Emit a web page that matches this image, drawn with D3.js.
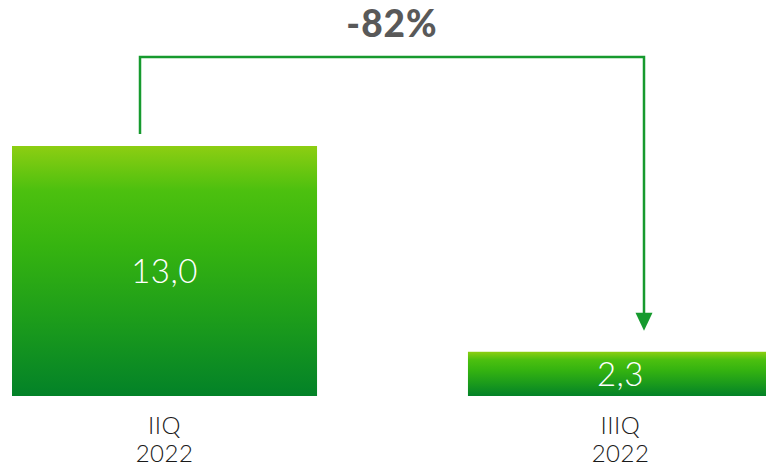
<!DOCTYPE html>
<html><head><meta charset="utf-8">
<script src="https://cdn.jsdelivr.net/npm/d3@7"></script>
<style>html,body{margin:0;padding:0;background:#fff;overflow:hidden}</style>
</head><body>
<svg id="c" width="766" height="466"></svg>
<script>
const categories = ["IIQ\n2022", "IIIQ\n2022"];
const values = [13.0, 2.3];
const valueLabels = ["13,0", "2,3"];
const changeLabel = "-82%";

const svg = d3.select("#c");
const baseY = 396;
const x = d3.scaleBand().domain(categories).range([12, 773]).paddingInner(0.331).paddingOuter(0);
const y = d3.scaleLinear().domain([0, 13.0]).range([baseY, 146]);

const defs = svg.append("defs");
const g = defs.append("linearGradient").attr("id", "grad").attr("x1", 0).attr("y1", 0).attr("x2", 0).attr("y2", 1);
[[0, "#8dce12"], [0.18, "#4cc00f"], [0.4, "#36b410"], [0.7, "#1c9c1b"], [1, "#038228"]]
  .forEach(([o, c]) => g.append("stop").attr("offset", o).attr("stop-color", c));

svg.selectAll("rect.bar").data(values).join("rect")
  .attr("class", "bar")
  .attr("x", (d, i) => x(categories[i]))
  .attr("y", d => y(d))
  .attr("width", x.bandwidth())
  .attr("height", d => baseY - y(d))
  .attr("fill", "url(#grad)");

svg.selectAll("text.val").data(values).join("text")
  .attr("class", "val")
  .attr("x", (d, i) => x(categories[i]) + x.bandwidth() / 2)
  .attr("y", d => (y(d) + baseY) / 2 + 12)
  .attr("text-anchor", "middle")
  .attr("fill", "#fff")
  .attr("font-family", "Lato, sans-serif")
  .attr("font-weight", 300)
  .attr("font-size", 33)
  .attr("letter-spacing", 0.5)
  .text((d, i) => valueLabels[i]);

const cat = svg.selectAll("text.cat").data(categories).join("text")
  .attr("class", "cat")
  .attr("text-anchor", "middle")
  .attr("fill", "#1a1a1a")
  .attr("font-family", "Lato, sans-serif")
  .attr("font-weight", 300)
  .attr("font-size", 24)
  .attr("letter-spacing", 0.5);
cat.each(function(d) {
  const cx = x(d) + x.bandwidth() / 2;
  d.split("\n").forEach((t, j) => {
    d3.select(this).append("tspan").attr("x", cx).attr("y", 434 + j * 28).text(t);
  });
});

// bracket arrow
const x1 = 140, x2 = 644, topY = 57;
const green = "#169a2e";
svg.append("path")
  .attr("d", `M${x1},${y(values[0]) - 12} V${topY} H${x2} V${y(values[1]) - 38}`)
  .attr("fill", "none").attr("stroke", green).attr("stroke-width", 2.5);
const tip = y(values[1]) - 21;
svg.append("path")
  .attr("d", `M${x2 - 8.5},${tip - 18} L${x2 + 8.5},${tip - 18} L${x2},${tip} Z`)
  .attr("fill", green);

svg.append("text")
  .attr("x", 392).attr("y", 37)
  .attr("text-anchor", "middle")
  .attr("fill", "#595959")
  .attr("font-family", "Lato, sans-serif")
  .attr("font-weight", 900)
  .attr("font-size", 37)
  .attr("letter-spacing", 1)
  .text(changeLabel);
</script>
</body></html>
